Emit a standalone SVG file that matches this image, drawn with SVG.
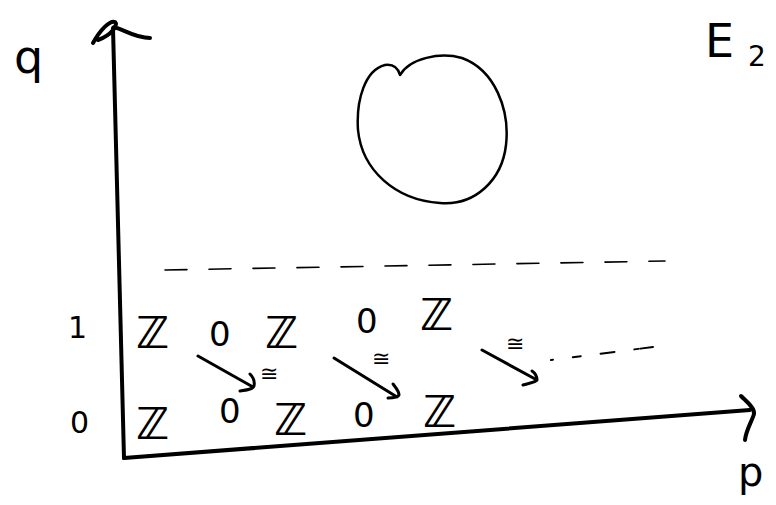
<svg xmlns="http://www.w3.org/2000/svg" width="776" height="505" viewBox="0 0 776 505">
<style>
.ink{fill:none;stroke:#000;stroke-linecap:round;stroke-linejoin:round}
.ax{stroke-width:4}
.th{stroke-width:3}
.dash{stroke-width:1.6;stroke-dasharray:22 22}
.t{font-family:"DejaVu Sans","Liberation Sans",sans-serif;fill:#000}
.z{font-size:44px;font-weight:bold}
.o{font-size:34px}
.iso{font-size:22px}
</style>
<rect width="776" height="505" fill="#fff"/>
<g id="axes">
<path class="ink ax" d="M124,458 L113,28"/>
<path class="ink ax" d="M93,43 C100,30 110,20 115,22 C118,25 112,35 98,40 M114,27 C125,30 135,38 150,38"/>
<path class="ink ax" d="M124,458 L750,410"/>
<path class="ink ax" d="M741,396 C747,402 755,408 754,414 C752,421 746,430 745,440"/>
</g>
<g id="labels">
<text class="t" x="14" y="73" font-size="46">q</text>
<text class="t" x="705" y="57" font-size="46">E</text>
<text class="t" x="748" y="66" font-size="28">2</text>
<text class="t" x="738" y="486" font-size="40">p</text>
<text class="t" x="68" y="338" font-size="30">1</text>
<text class="t" x="70" y="433" font-size="30">0</text>
</g>
<g id="blob">
<path class="ink" stroke-width="2.5" d="M400,75 C410,58 440,52 462,58 C495,70 510,110 506,145 C502,180 475,206 440,203 C395,200 362,170 358,130 C356,100 365,70 385,65 C393,64 398,68 400,75 Z"/>
</g>
<g id="dashed-line">
<path class="ink dash" d="M165,270 L665,261"/>
</g>
<g id="row1">
<text class="t z" x="136" y="348">ℤ</text>
<text class="t o" x="209" y="346">0</text>
<text class="t z" x="265" y="348">ℤ</text>
<text class="t o" x="356" y="333">0</text>
<text class="t z" x="420" y="330">ℤ</text>
</g>
<g id="row0">
<text class="t z" x="136" y="439">ℤ</text>
<text class="t o" x="219" y="423">0</text>
<text class="t z" x="274" y="435">ℤ</text>
<text class="t o" x="353" y="427">0</text>
<text class="t z" x="423" y="427">ℤ</text>
</g>
<g id="connectors">
<path class="ink th" d="M198,356 L253,387 M240,391 C247,390 253,389 254,386 C255,381 253,377 250,374"/>
<path class="ink th" d="M334,358 L397,397 M388,398 C393,398 398,397 399,395 C399,391 396,388 393,384"/>
<path class="ink th" d="M482,350 L537,380 M523,385 C530,383 536,382 537,380 C537,376 535,373 532,371"/>
<path class="ink" stroke-width="2" stroke-dasharray="2 20 8 20 14 20 4" d="M551,360 L653,347"/>
<text class="t iso" x="260" y="381">≅</text>
<text class="t iso" x="372" y="366">≅</text>
<text class="t iso" x="506" y="351">≅</text>
</g>
</svg>
